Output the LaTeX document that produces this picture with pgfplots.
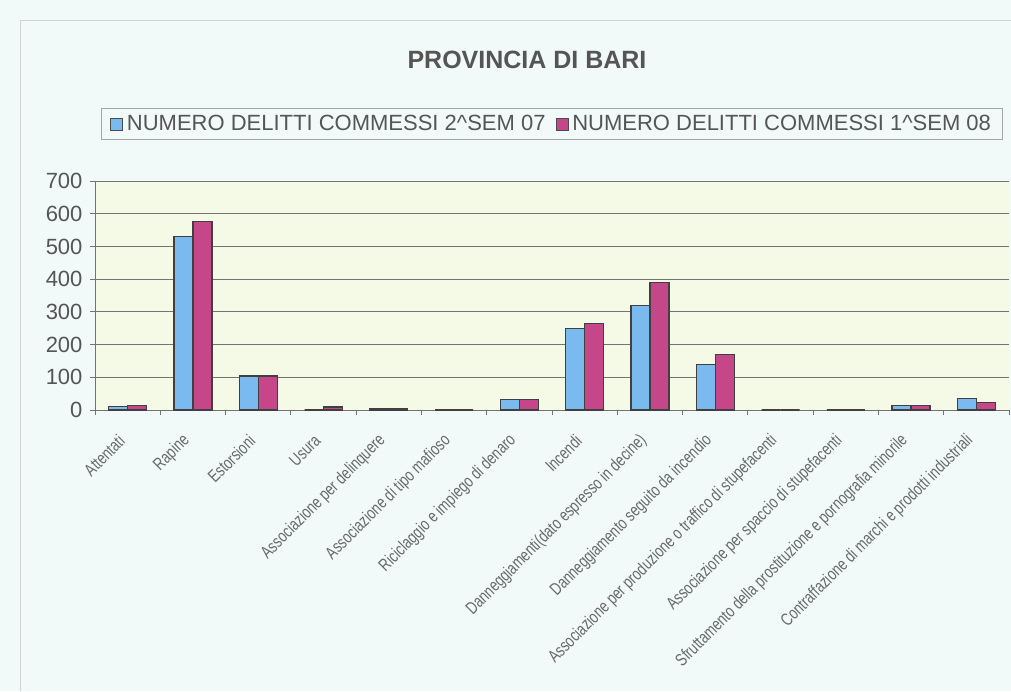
\documentclass[border=0pt]{standalone}
\usepackage{pgfplots}
\pgfplotsset{compat=1.18}
\usepackage{fontspec}
\setmainfont{Liberation Sans}
\newfontfamily\narrowfont[FakeStretch=0.76]{Liberation Sans}
\definecolor{bgout}{RGB}{241,250,248}
\definecolor{plotbg}{RGB}{245,250,230}
\definecolor{barblue}{RGB}{122,186,238}
\definecolor{barpink}{RGB}{198,70,138}
\definecolor{txtgray}{RGB}{85,85,85}
\definecolor{lblgray}{RGB}{105,105,105}
\definecolor{gridgray}{RGB}{115,115,115}
\begin{document}
\begin{tikzpicture}[x=1pt,y=1pt]
\path[use as bounding box, fill=bgout] (0,0) rectangle (1011,-691);
\draw[gray!35, line width=1pt] (20,-691) -- (20,-20) -- (1011,-20);
\node[font=\fontsize{25}{25}\selectfont\bfseries, text=txtgray] at (527,-60) {PROVINCIA DI BARI};
\begin{axis}[
  at={(95pt,-410pt)}, anchor=south west,
  scale only axis, width=914pt, height=229pt,
  xmin=-0.5, xmax=13.5, ymin=0, ymax=700,
  ytick={0,100,...,700},
  xtick={0,...,13},
  minor xtick={-0.5,0.5,...,13.5},
  xticklabels={Attentati,Rapine,Estorsioni,Usura,Associazione per delinquere,Associazione di tipo mafioso,Riciclaggio e impiego di denaro,Incendi,Danneggiamenti(dato espresso in decine),Danneggiamento seguito da incendio,Associazione per produzione o traffico di stupefacenti,Associazione per spaccio di stupefacenti,Sfruttamento della prostituzione e pornografia minorile,Contraffazione di marchi e prodotti industriali},
  axis lines*=left,
  axis line style={gridgray, line width=0.8pt, -},
  tick align=outside,
  major tick length=5pt, minor tick length=5pt,
  xtick style={draw=none},
  minor x tick style={draw=gridgray, line width=0.8pt},
  ytick style={draw=gridgray, line width=0.8pt},
  ymajorgrids, grid style={gridgray, line width=0.9pt},
  axis background/.style={fill=plotbg},
  /pgf/number format/assume math mode=true,
  yticklabel style={font=\fontsize{22}{22}\selectfont, text=txtgray, xshift=-4pt},
  xticklabel style={font=\narrowfont\fontsize{17.5}{17.5}\selectfont, text=lblgray, xshift=-6pt, yshift=-23pt, rotate=45, anchor=east, inner sep=0pt},
  ybar=0pt, bar width=19pt,
  legend columns=2,
  legend style={at={(0.4995,1.249)}, anchor=center, draw=gray!70, fill=bgout, font=\fontsize{22}{22}\selectfont, text=txtgray, inner xsep=9pt, inner ysep=5pt,
    /tikz/every even column/.append style={column sep=8pt},
    /tikz/every odd column/.append style={column sep=2pt}},
  legend image code/.code={\draw[#1, draw=black!70, line width=0.8pt] (0pt,-6pt) rectangle (12pt,6pt);},
]
\addplot[fill=barblue, draw=black!75, line width=1.2pt] coordinates {
(0,10) (1,530) (2,104) (3,0) (4,5) (5,0) (6,31) (7,249) (8,319) (9,139) (10,0) (11,0) (12,14) (13,35)};
\addplot[fill=barpink, draw=black!75, line width=1.2pt] coordinates {
(0,15) (1,576) (2,104) (3,9) (4,5) (5,0) (6,31) (7,264) (8,389) (9,170) (10,0) (11,0) (12,14) (13,24)};
\legend{NUMERO DELITTI COMMESSI 2\textasciicircum SEM 07, NUMERO DELITTI COMMESSI 1\textasciicircum SEM 08}
\end{axis}
\end{tikzpicture}
\end{document}
